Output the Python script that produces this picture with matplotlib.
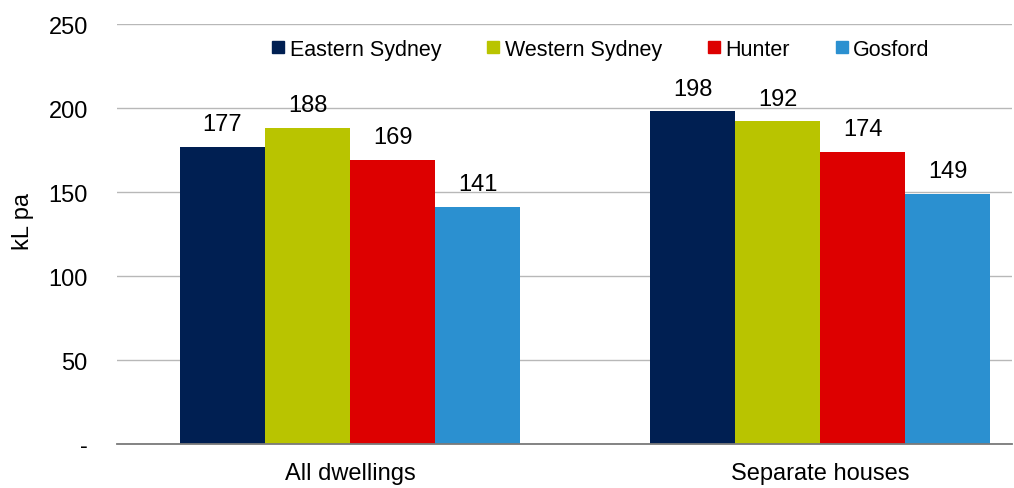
import numpy as np
import matplotlib.pyplot as plt
from matplotlib.lines import Line2D

plt.rcParams['font.family'] = ['Liberation Sans', 'DejaVu Sans']

categories = ['All dwellings', 'Separate houses']
regions = ['Eastern Sydney', 'Western Sydney', 'Hunter', 'Gosford']
usage = [
    [177, 198],
    [188, 192],
    [169, 174],
    [141, 149],
]
colors = ['#001f52', '#b9c400', '#dd0000', '#2b90d0']
yticks = [0, 50, 100, 150, 200, 250]
ytick_labels = ['-', '50', '100', '150', '200', '250']

fig = plt.figure(figsize=(10.14, 4.89), dpi=100)
ax = fig.add_axes([117 / 1014, 1 - 445 / 489, (1012 - 117) / 1014, (445 - 25) / 489])

x = np.arange(len(categories))
width = 0.181
for i, (name, vals) in enumerate(zip(regions, usage)):
    pos = x + (i - 1.5) * width
    ax.bar(pos, vals, width, color=colors[i], label=name, zorder=2)
    for p, v in zip(pos, vals):
        ax.annotate(str(v), (p, v), xytext=(0, 12), textcoords='offset points',
                    ha='center', va='baseline', fontsize=17)

ax.set_xlim(-0.496, 1.408)
ax.set_ylim(0, 250)
ax.set_yticks(yticks)
ax.set_yticklabels(ytick_labels, fontsize=17)
ax.set_xticks(x)
ax.set_xticklabels(categories, fontsize=17)
ax.tick_params(axis='x', length=0, pad=13)
ax.tick_params(axis='y', length=0, pad=21)
ax.yaxis.grid(True, color='#b8b8b8', linewidth=1.0, zorder=0)
ax.set_axisbelow(True)
ax.set_ylabel('kL pa', fontsize=17)
ax.yaxis.set_label_coords(-0.093, 0.531)

for side in ['top', 'right', 'left']:
    ax.spines[side].set_visible(False)
ax.spines['bottom'].set_color('#7a7a7a')
ax.spines['bottom'].set_linewidth(1.3)
ax.spines['bottom'].set_zorder(3)

handles = [Line2D([], [], marker='s', linestyle='none', markersize=8,
                  markerfacecolor=c, markeredgecolor=c) for c in colors]
ax.legend(handles, regions, loc='center left', bbox_to_anchor=(0.1736, 0.940),
          ncol=4, frameon=False, fontsize=15.5, borderpad=0, borderaxespad=0,
          handlelength=0.55, handletextpad=0.25, columnspacing=2.15)

fig.savefig('out.png', dpi=100)
